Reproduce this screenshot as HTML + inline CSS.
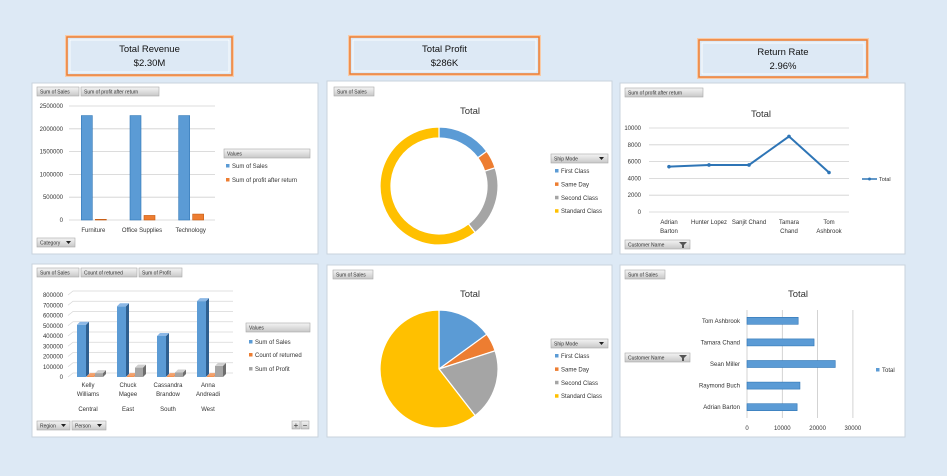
<!DOCTYPE html>
<html><head><meta charset="utf-8">
<style>
html,body{margin:0;padding:0;background:#dde9f5;}
svg{display:block;font-family:"Liberation Sans",sans-serif;}
</style></head>
<body>
<svg id="s" width="947" height="476" viewBox="0 0 947 476" xmlns="http://www.w3.org/2000/svg">
<defs>
<linearGradient id="btn" x1="0" y1="0" x2="0" y2="1"><stop offset="0" stop-color="#f4f4f4"/><stop offset="1" stop-color="#c8c8c8"/></linearGradient>
</defs>
<rect width="947" height="476" fill="#dde9f5"/>
<!-- KPI cards -->
<g>
<rect x="67" y="37" width="165" height="38" fill="none" stroke="#f8cba8" stroke-width="4"/>
<rect x="67" y="37" width="165" height="38" fill="#dde9f5" stroke="#ed7d31" stroke-width="1.5"/>
<rect x="70" y="40" width="159" height="32" fill="none" stroke="#fff" stroke-width="0.8"/>
<text x="149.5" y="52" font-size="9.5" text-anchor="middle" fill="#111">Total Revenue</text>
<text x="149.5" y="66" font-size="9.5" text-anchor="middle" fill="#111">$2.30M</text>
</g>
<g>
<rect x="350" y="37" width="189" height="37" fill="none" stroke="#f8cba8" stroke-width="4"/>
<rect x="350" y="37" width="189" height="37" fill="#dde9f5" stroke="#ed7d31" stroke-width="1.5"/>
<rect x="353" y="40" width="183" height="31" fill="none" stroke="#fff" stroke-width="0.8"/>
<text x="444.5" y="52" font-size="9.5" text-anchor="middle" fill="#111">Total Profit</text>
<text x="444.5" y="66" font-size="9.5" text-anchor="middle" fill="#111">$286K</text>
</g>
<g>
<rect x="699" y="40" width="168" height="37" fill="none" stroke="#f8cba8" stroke-width="4"/>
<rect x="699" y="40" width="168" height="37" fill="#dde9f5" stroke="#ed7d31" stroke-width="1.5"/>
<rect x="702" y="43" width="162" height="31" fill="none" stroke="#fff" stroke-width="0.8"/>
<text x="783" y="55" font-size="9.5" text-anchor="middle" fill="#111">Return Rate</text>
<text x="783" y="69" font-size="9.5" text-anchor="middle" fill="#111">2.96%</text>
</g>
<!-- panels -->
<rect x="32" y="83" width="286" height="171" fill="#fff" stroke="#c9d3dd"/>
<rect x="327" y="81" width="285" height="173" fill="#fff" stroke="#c9d3dd"/>
<rect x="620" y="83" width="285" height="171" fill="#fff" stroke="#c9d3dd"/>
<rect x="32" y="264" width="286" height="173" fill="#fff" stroke="#c9d3dd"/>
<rect x="327" y="265" width="285" height="172" fill="#fff" stroke="#c9d3dd"/>
<rect x="620" y="265" width="285" height="172" fill="#fff" stroke="#c9d3dd"/>
<g id="marks"></g>
</svg>
<script>
// ---------- data ----------
const catCategories=["Furniture","Office Supplies","Technology"];
const catSales=[2290000,2290000,2290000];
const catProfit=[15000,100000,130000];
const catTicks=[0,500000,1000000,1500000,2000000,2500000];

const regPersons=[["Kelly","Williams"],["Chuck","Magee"],["Cassandra","Brandow"],["Anna","Andreadi"]];
const regRegions=["Central","East","South","West"];
const regSales=[510000,690000,400000,740000];
const regReturned=[8000,8000,8000,8000];
const regProfit=[38000,92000,44000,108000];
const regTicks=[0,100000,200000,300000,400000,500000,600000,700000,800000];

const lineCustomers=[["Adrian","Barton"],["Hunter Lopez"],["Sanjit Chand"],["Tamara","Chand"],["Tom","Ashbrook"]];
const lineValues=[5400,5600,5600,9000,4700];
const lineTicks=[0,2000,4000,6000,8000,10000];

const shipModes=["First Class","Same Day","Second Class","Standard Class"];
const shipShares=[15,5,19.5,60.5];
const shipColors=["#5b9bd5","#ed7d31","#a5a5a5","#ffc000"];

const barCustomers=["Tom Ashbrook","Tamara Chand","Sean Miller","Raymond Buch","Adrian Barton"];
const barValues=[14500,19000,25000,15000,14200];
const barTicks=[0,10000,20000,30000];

// ---------- helpers ----------
const NS="http://www.w3.org/2000/svg";
const root=document.getElementById('marks');
function mk(tag,attrs,parent){const e=document.createElementNS(NS,tag);for(const k in attrs)e.setAttribute(k,attrs[k]);(parent||root).appendChild(e);return e;}
function txt(x,y,s,size,anchor,parent,weight){const t=mk('text',{x:x,y:y,'font-size':size||6,'text-anchor':anchor||'start',fill:'#333'},parent);if(weight)t.setAttribute('font-weight',weight);t.textContent=s;return t;}
function button(x,y,w,label,arrow){const g=mk('g',{});
 
 
 mk('rect',{x:x,y:y,width:w,height:9,fill:'url(#btn)',stroke:'#a8a8a8','stroke-width':0.6},g);
 txt(x+3,y+6.5,label,5,'start',g);
 if(arrow)mk('path',{d:`M${x+w-9} ${y+3}h5l-2.5 3z`,fill:'#222'},g);
 return g;}
function legendHeader(x,y,w,label,arrow){const g=mk('g',{});
 
 
 mk('rect',{x:x,y:y,width:w,height:9,fill:'url(#btn)',stroke:'#a8a8a8','stroke-width':0.6},g);
 txt(x+3,y+6.5,label,5,'start',g);
 if(arrow)mk('path',{d:`M${x+w-9} ${y+3}h5l-2.5 3z`,fill:'#222'},g);}
function legendEntry(x,y,color,label){const g=mk('g',{});
 
 
 mk('rect',{x:x,y:y-4,width:3.5,height:3.5,fill:color},g);
 txt(x+6,y,label,6,'start',g);}

// ---------- chart 1: category clustered bars ----------
(function(){
 const y0=220,yTop=106,max=2500000;const ys=v=>y0-(v/max)*(y0-yTop);
 const x0=69,x1=215,bw=(x1-x0)/catCategories.length;
 catTicks.forEach(t=>{const l=mk('line',{x1:x0,x2:x1,y1:ys(t),y2:ys(t),stroke:'#d0d0d0','stroke-width':0.8});
  
  const tl=txt(63,ys(t)+2,String(t),6,'end');
  });
 catCategories.forEach((c,i)=>{const cx=x0+bw*(i+0.5);
  const b=mk('rect',{x:cx-12,y:ys(catSales[i]),width:11,height:y0-ys(catSales[i]),fill:'#5b9bd5',stroke:'#2e75b6','stroke-width':0.6});
  
  
  const p=mk('rect',{x:cx+2,y:ys(catProfit[i]),width:11,height:y0-ys(catProfit[i]),fill:'#ed7d31',stroke:'#c55a11','stroke-width':0.6});
  
  
  const l=txt(cx,232,c,6,'middle');
  });
 button(37,87,42,'Sum of Sales');button(81,87,78,'Sum of profit after return');
 button(37,238,38,'Category',true);
 legendHeader(224,149,86,'Values');
 legendEntry(226,168,'#5b9bd5','Sum of Sales');
 legendEntry(226,182,'#ed7d31','Sum of profit after return');
})();

// ---------- chart 2: 3D region bars ----------
(function(){
 const y0=377,yTop=295,max=800000;const ys=v=>y0-(v/max)*(y0-yTop);
 const x0=68,x1=228,bw=(x1-x0)/regPersons.length,d=3;
 regTicks.forEach(t=>{const l=mk('path',{d:`M${x0} ${ys(t)} l5 -4 H${x1+5}`,fill:'none',stroke:'#d8d8d8','stroke-width':0.8});
  
  const tl=txt(63,ys(t)+2,String(t),6,'end');
  });
 function bar3(x,v,w,front,side,top,name){const y=ys(v);const g=mk('g',{});
  
  
  mk('rect',{x:x,y:y,width:w,height:y0-y,fill:front},g);
  mk('path',{d:`M${x+w} ${y}l${d} -${d}V${y0-d}l-${d} ${d}z`,fill:side},g);
  mk('path',{d:`M${x} ${y}l${d} -${d}h${w}l-${d} ${d}z`,fill:top},g);}
 regPersons.forEach((p,i)=>{const cx=x0+bw*(i+0.5);
  bar3(cx-11,regSales[i],9,'#5b9bd5','#2e5f8f','#8cb8e6','bar-sales');
  bar3(cx-1,regReturned[i],7,'#ed7d31','#a04c15','#f4a06a','bar-returned');
  bar3(cx+7,regProfit[i],8,'#a5a5a5','#6e6e6e','#cfcfcf','bar-profit');
  const a=txt(cx,387,p[0],6,'middle');
  const b=txt(cx,396,p[1],6,'middle');
  const r=txt(cx,411,regRegions[i],6,'middle');});
 button(37,268,42,'Sum of Sales');button(81,268,56,'Count of returned');button(139,268,43,'Sum of Profit');
 button(37,421,33,'Region',true);button(72,421,34,'Person',true);
 const pl=mk('g',{});
 
 
 mk('rect',{x:292,y:421,width:8,height:8,fill:'url(#btn)',stroke:'#999','stroke-width':0.5},pl);
 mk('rect',{x:301,y:421,width:8,height:8,fill:'url(#btn)',stroke:'#999','stroke-width':0.5},pl);
 txt(296,428,'+',8,'middle',pl);txt(305,428,'−',8,'middle',pl);
 legendHeader(246,323,64,'Values');
 legendEntry(249,344,'#5b9bd5','Sum of Sales');
 legendEntry(249,357,'#ed7d31','Count of returned');
 legendEntry(249,371,'#a5a5a5','Sum of Profit');
})();

// ---------- chart 3: line ----------
(function(){
 const y0=212,yTop=128,max=10000;const ys=v=>y0-(v/max)*(y0-yTop);
 const x0=649,x1=849,bw=(x1-x0)/lineCustomers.length;
 lineTicks.forEach(t=>{const l=mk('line',{x1:x0,x2:x1,y1:ys(t),y2:ys(t),stroke:'#d0d0d0','stroke-width':0.8});
  
  const tl=txt(641,ys(t)+2,String(t),6,'end');
  });
 const pts=lineValues.map((v,i)=>[x0+bw*(i+0.5),ys(v)]);
 const pl=mk('polyline',{points:pts.map(p=>p.join(',')).join(' '),fill:'none',stroke:'#2e75b6','stroke-width':2});
 
 
 pts.forEach(p=>{const c=mk('circle',{cx:p[0],cy:p[1],r:1.8,fill:'#2e75b6'});
  
  });
 lineCustomers.forEach((n,i)=>{const cx=x0+bw*(i+0.5);n.forEach((s,j)=>{const t=txt(cx,224+j*9,s,6,'middle');});});
 const tt=txt(761,117,'Total',9.5,'middle');
 const lg=mk('g',{});
 
 
 mk('line',{x1:862,x2:877,y1:179,y2:179,stroke:'#2e75b6','stroke-width':1.5},lg);
 mk('circle',{cx:869.5,cy:179,r:1.5,fill:'#2e75b6'},lg);
 txt(879,181,'Total',5.5,'start',lg);
 button(625,88,78,'Sum of profit after return');
 button(625,240,65,'Customer Name');
 mk('path',{d:'M679 242h8l-3 3v3h-2v-3z',fill:'#555'});
})();

// ---------- donut & pie ----------
function slices(cx,cy,r,ri,name){let a=-Math.PI/2;const tot=shipShares.reduce((s,v)=>s+v,0);
 shipShares.forEach((v,i)=>{const a2=a+v/tot*2*Math.PI;const lg=(a2-a)>Math.PI?1:0;
  const p=(ang,rr)=>[cx+rr*Math.cos(ang),cy+rr*Math.sin(ang)];
  const [ox1,oy1]=p(a,r),[ox2,oy2]=p(a2,r);let d;
  if(ri>0){const [ix1,iy1]=p(a,ri),[ix2,iy2]=p(a2,ri);
   d=`M${ox1} ${oy1}A${r} ${r} 0 ${lg} 1 ${ox2} ${oy2}L${ix2} ${iy2}A${ri} ${ri} 0 ${lg} 0 ${ix1} ${iy1}Z`;}
  else d=`M${cx} ${cy}L${ox1} ${oy1}A${r} ${r} 0 ${lg} 1 ${ox2} ${oy2}Z`;
  const s=mk('path',{d:d,fill:shipColors[i],stroke:'#fff','stroke-width':1.2});
  
  
  a=a2;});}
(function(){
 slices(439,186,59,48,'donut');
 const t=txt(470,114,'Total',9.5,'middle');
 button(334,87,40,'Sum of Sales');
 legendHeader(551,154,57,'Ship Mode',true);
 shipModes.forEach((m,i)=>legendEntry(555,173+i*13.4,shipColors[i],m));
})();
(function(){
 slices(439,369,59,0,'pie');
 const t=txt(470,297,'Total',9.5,'middle');
 button(333,270,40,'Sum of Sales');
 legendHeader(551,339,57,'Ship Mode',true);
 shipModes.forEach((m,i)=>legendEntry(555,358+i*13.4,shipColors[i],m));
})();

// ---------- chart 6: horizontal bars ----------
(function(){
 const xz=747,x10=35.3;const xs=v=>xz+v/10000*x10;
 const yTop=310,yBot=418,bh=(yBot-yTop)/barCustomers.length;
 barTicks.forEach(t=>{const l=mk('line',{x1:xs(t),x2:xs(t),y1:yTop,y2:yBot,stroke:'#c8c8c8','stroke-width':0.8});
  
  const tl=txt(xs(t),430,String(t),6,'middle');
  });
 barCustomers.forEach((c,i)=>{const cy=yTop+bh*(i+0.5);
  const b=mk('rect',{x:xz,y:cy-3.5,width:xs(barValues[i])-xz,height:7,fill:'#5b9bd5',stroke:'#2e75b6','stroke-width':0.6});
  
  
  const l=txt(740,cy+2,c,6,'end');});
 const t=txt(798,297,'Total',9.5,'middle');
 legendEntry(876,372,'#5b9bd5','Total');
 button(625,270,40,'Sum of Sales');
 button(625,353,65,'Customer Name');
 mk('path',{d:'M679 355h8l-3 3v3h-2v-3z',fill:'#555'});
})();
</script>
</body></html>
